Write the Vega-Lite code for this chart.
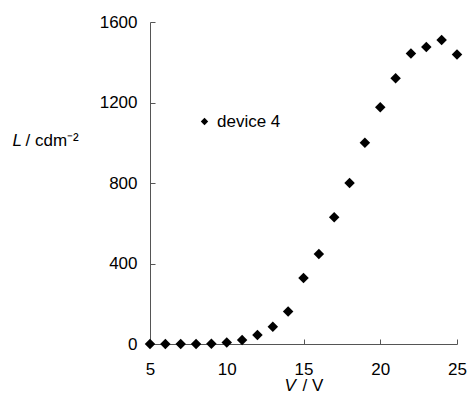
{
  "$schema": "https://vega.github.io/schema/vega-lite/v6.json",
  "width": 307,
  "height": 322,
  "autosize": "none",
  "padding": {"left": 150, "top": 22, "right": 12, "bottom": 63},
  "background": "white",
  "config": {
    "font": "Liberation Sans",
    "view": {"stroke": null},
    "axis": {
      "grid": false,
      "domainColor": "#555555",
      "tickColor": "#555555",
      "tickSize": -5,
      "labelFlush": false,
      "labelColor": "black",
      "labelFont": "Liberation Sans",
      "labelFontSize": 17,
      "titleFont": "Liberation Sans",
      "titleFontSize": 17,
      "titleFontWeight": "normal",
      "titleColor": "black"
    }
  },
  "data": {
    "values": [
      {"V": 5, "L": 0, "series": "device 4"},
      {"V": 6, "L": 0, "series": "device 4"},
      {"V": 7, "L": 0, "series": "device 4"},
      {"V": 8, "L": 0, "series": "device 4"},
      {"V": 9, "L": 1, "series": "device 4"},
      {"V": 10, "L": 8, "series": "device 4"},
      {"V": 11, "L": 20, "series": "device 4"},
      {"V": 12, "L": 45, "series": "device 4"},
      {"V": 13, "L": 86, "series": "device 4"},
      {"V": 14, "L": 162, "series": "device 4"},
      {"V": 15, "L": 328, "series": "device 4"},
      {"V": 16, "L": 447, "series": "device 4"},
      {"V": 17, "L": 630, "series": "device 4"},
      {"V": 18, "L": 800, "series": "device 4"},
      {"V": 19, "L": 1000, "series": "device 4"},
      {"V": 20, "L": 1176, "series": "device 4"},
      {"V": 21, "L": 1320, "series": "device 4"},
      {"V": 22, "L": 1444, "series": "device 4"},
      {"V": 23, "L": 1476, "series": "device 4"},
      {"V": 24, "L": 1511, "series": "device 4"},
      {"V": 25, "L": 1439, "series": "device 4"}
    ]
  },
  "layer": [
    {
      "mark": {"type": "point", "shape": "diamond", "filled": true, "size": 110, "opacity": 1},
      "encoding": {
        "x": {
          "field": "V", "type": "quantitative",
          "scale": {"domain": [5, 25], "nice": false, "zero": false},
          "axis": {
            "orient": "bottom",
            "values": [5, 10, 15, 20, 25],
            "format": "d",
            "labelFlush": false,
            "labelPadding": 22,
            "title": "/ V",
            "titleX": 152, "titleY": 41,
            "titleAlign": "left", "titleBaseline": "middle", "titleAnchor": null
          }
        },
        "y": {
          "field": "L", "type": "quantitative",
          "scale": {"domain": [0, 1600], "nice": false},
          "axis": {
            "orient": "left",
            "values": [0, 400, 800, 1200, 1600],
            "format": "d",
            "labelFlush": false,
            "labelPadding": 18,
            "title": "/ cdm⁻²",
            "titleAngle": 0,
            "titleX": -125, "titleY": 118,
            "titleAlign": "left", "titleBaseline": "middle", "titleAnchor": null
          }
        },
        "shape": {
          "field": "series", "type": "nominal",
          "scale": {"range": ["diamond"]},
          "legend": {
            "orient": "none",
            "legendX": 46, "legendY": 91,
            "title": null,
            "padding": 0,
            "symbolSize": 55,
            "symbolFillColor": "black",
            "symbolStrokeColor": "black",
            "labelFont": "Liberation Sans",
            "labelFontSize": 17,
            "labelColor": "black",
            "labelOffset": 4
          }
        },
        "color": {"value": "black"}
      }
    },
    {
      "mark": {"type": "point", "opacity": 0},
      "encoding": {
        "x": {
          "field": "V", "type": "quantitative",
          "scale": {"domain": [5, 25], "nice": false, "zero": false},
          "axis": {
            "orient": "bottom",
            "labels": false, "ticks": false, "domain": false,
            "title": "V",
            "titleFontStyle": "italic",
            "titleX": 134, "titleY": 41,
            "titleAlign": "left", "titleBaseline": "middle", "titleAnchor": null
          }
        },
        "y": {
          "field": "L", "type": "quantitative",
          "scale": {"domain": [0, 1600], "nice": false},
          "axis": {
            "orient": "left",
            "labels": false, "ticks": false, "domain": false,
            "title": "L",
            "titleFontStyle": "italic",
            "titleAngle": 0,
            "titleX": -138, "titleY": 118,
            "titleAlign": "left", "titleBaseline": "middle", "titleAnchor": null
          }
        }
      }
    }
  ],
  "resolve": {"axis": {"x": "independent", "y": "independent"}}
}
